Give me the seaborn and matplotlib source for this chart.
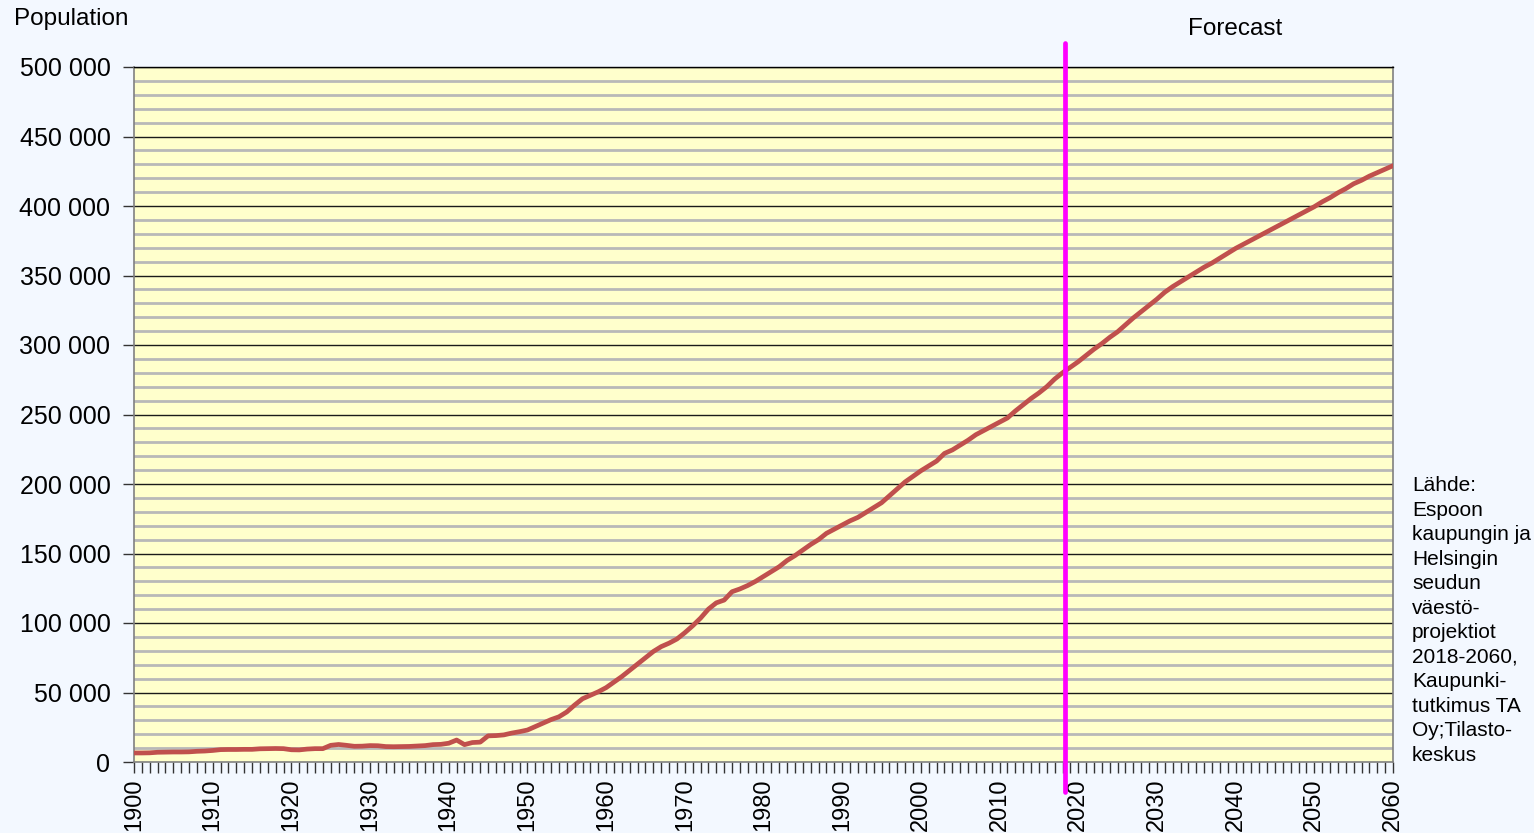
import matplotlib
matplotlib.use("Agg")
import matplotlib.pyplot as plt
import matplotlib.ticker as mticker
import seaborn as sns
import pandas as pd
import numpy as np

years = list(range(1900, 2061))
population_thousands = [
    # 1900-1909
    6.5, 6.5, 6.6, 7.0, 7.1, 7.2, 7.2, 7.3, 7.7, 7.9,
    # 1910-1919
    8.3, 8.9, 9.0, 9.0, 9.1, 9.1, 9.5, 9.6, 9.7, 9.6,
    # 1920-1929
    8.8, 8.7, 9.3, 9.6, 9.6, 12.0, 12.6, 12.0, 11.3, 11.4,
    # 1930-1939
    11.8, 11.7, 11.1, 11.0, 11.1, 11.2, 11.5, 11.8, 12.5, 12.7,
    # 1940-1949
    13.5, 15.8, 12.5, 14.0, 14.3, 18.8, 19.0, 19.5, 20.8, 21.8,
    # 1950-1959
    23.0, 25.5, 28.0, 30.5, 32.5, 36.0, 41.0, 45.5, 48.0, 50.5,
    # 1960-1969
    53.5, 57.5, 61.5, 66.0, 70.5, 75.0, 79.5, 83.0, 85.5, 88.5,
    # 1970-1979
    93.0, 98.0, 103.5, 110.0, 114.5, 116.5, 122.5, 124.5, 127.0, 130.0,
    # 1980-1989
    133.5, 137.0, 140.5, 145.0, 148.5, 152.5, 156.5, 160.0, 164.5, 167.5,
    # 1990-1999
    170.5, 173.5, 176.0, 179.5, 183.0, 186.5, 191.5, 196.5, 201.5, 205.5,
    # 2000-2009
    209.5, 213.0, 216.5, 222.0, 224.5, 228.0, 231.5, 235.5, 238.5, 241.5,
    # 2010-2019
    244.5, 247.5, 252.5, 257.0, 261.5, 265.5, 270.0, 275.5, 280.0, 284.0,
    # 2020-2029
    288.0, 292.5, 297.0, 301.0, 305.5, 309.5, 314.5, 319.5, 324.0, 328.5,
    # 2030-2039
    333.0, 338.0, 342.0, 345.5, 349.0, 352.5, 356.0, 359.0, 362.5, 366.0,
    # 2040-2049
    369.5, 372.5, 375.5, 378.5, 381.5, 384.5, 387.5, 390.5, 393.5, 396.5,
    # 2050-2060
    399.5, 403.0, 406.0, 409.5, 412.5, 416.0, 418.5, 421.5, 424.0, 426.5, 429.0,
]
forecast_start = 2018.3
y_label = "Population"
forecast_label = "Forecast"
source_text = ("Lähde:\nEspoon\nkaupungin ja\nHelsingin\nseudun\nväestö-\nprojektiot\n"
               "2018-2060,\nKaupunki-\ntutkimus TA\nOy;Tilasto-\nkeskus")

df = pd.DataFrame({"year": years, "population": np.array(population_thousands) * 1000})

sns.set_style("white")
plt.rcParams["font.family"] = ["Liberation Sans", "DejaVu Sans"]
plt.rcParams["text.color"] = "black"
plt.rcParams["xtick.color"] = "black"
plt.rcParams["ytick.color"] = "black"

bg = "#F3F8FF"
fig = plt.figure(figsize=(15.34, 8.33), dpi=100, facecolor=bg)
ax = fig.add_axes([134/1534, 71/833, (1393-134)/1534, (762-67)/833])
ax.set_facecolor("#FFFFCC")

ax.set_xlim(1900, 2060)
ax.set_ylim(0, 500000)
ax.yaxis.set_major_locator(mticker.MultipleLocator(50000))
ax.yaxis.set_minor_locator(mticker.MultipleLocator(10000))
ax.xaxis.set_major_locator(mticker.MultipleLocator(10))
ax.xaxis.set_minor_locator(mticker.MultipleLocator(1))
ax.grid(False)
for v in range(10000, 500001, 10000):
    if v % 50000 != 0:
        ax.axhline(v, color="#B8B8B8", lw=2.0, zorder=1)
for v in range(50000, 500001, 50000):
    ax.axhline(v, color="#1a1a1a", lw=1.0, zorder=1.5)

sns.lineplot(data=df, x="year", y="population", ax=ax, color="#C0504D",
             linewidth=3.4, zorder=3)

ax.axvline(forecast_start, ymin=-0.043, ymax=1.0345, color="#FF00FF", lw=3.4,
           clip_on=False, zorder=4)

ax.set_xlabel("")
ax.set_ylabel("")
ax.yaxis.set_major_formatter(mticker.FuncFormatter(
    lambda v, p: f"{int(v):,}".replace(",", " ")))
ax.tick_params(axis="y", which="major", length=8, width=1, color="#333333",
               labelcolor="black", labelsize=18, pad=9, direction="out", left=True)
ax.tick_params(axis="y", which="minor", length=0)
ax.tick_params(axis="x", which="major", length=8, width=1, color="#333333",
               labelcolor="black", labelsize=17, pad=4, direction="out",
               bottom=True, labelrotation=90)
ax.tick_params(axis="x", which="minor", length=8, width=1, color="#333333",
               direction="out", bottom=True)
for lab in ax.get_xticklabels():
    lab.set_rotation(90)
    lab.set_va("top")

for side in ["left", "right", "bottom"]:
    ax.spines[side].set_color("#808080")
    ax.spines[side].set_linewidth(1.2)
ax.spines["top"].set_color("#000000")
ax.spines["top"].set_linewidth(1.0)

fig.text(14/1534, 1 - 19/833, y_label, fontsize=17.5, ha="left", va="center",
         color="black")
fig.text(1235/1534, 1 - 29/833, forecast_label, fontsize=17.5, ha="center",
         va="center", color="black")
fig.text(1412/1534, 1 - 476/833, source_text, fontsize=15, ha="left", va="top",
         linespacing=1.37, color="black")

fig.savefig("out.png", dpi=100, facecolor=bg)
